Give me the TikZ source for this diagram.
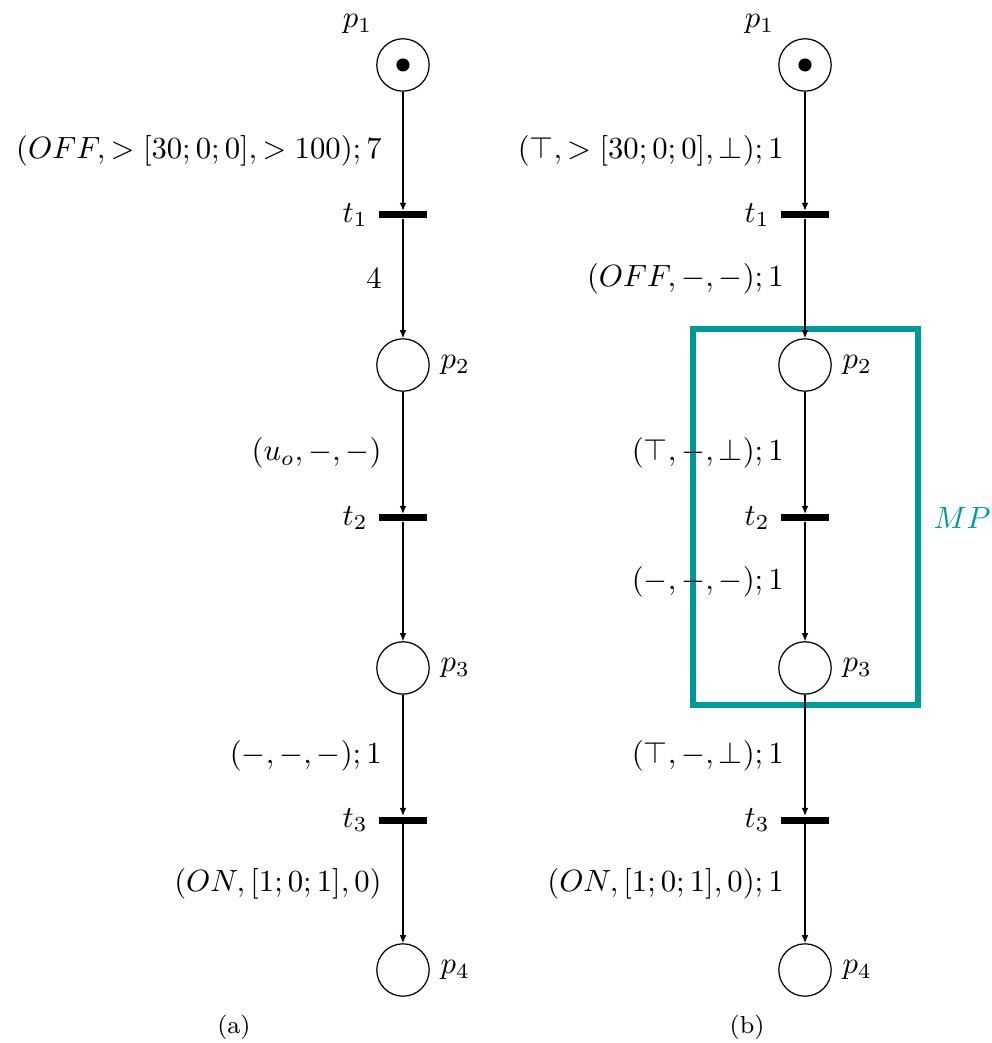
\documentclass[tikz,border=0pt]{standalone}
\usepackage{amsmath,amssymb,amsfonts}
\usepackage{xcolor}
\usepackage{tikz}
\usetikzlibrary{arrows.meta}
\definecolor{mpteal}{RGB}{0,153,153}

\begin{document}
\begin{tikzpicture}[font=\fontsize{10.4}{12.5}\selectfont,
    place/.style={draw, circle, minimum size=6mm, inner sep=0pt},
    trans/.style={fill=black, rectangle, minimum width=5.5mm, minimum height=0.8mm, inner sep=0pt},
    token/.style={fill=black, circle, minimum size=1.5mm, inner sep=0pt},
    flow/.style={-{Latex[length=2.6pt,width=2.2pt]}},
    lab/.style={left=0.12cm}]
  \useasboundingbox (0,0) rectangle (11.363,11.947);

  % (a)
  \node[place] (a1) at (4.616,11.203) {};
  \node[token] (atok) at (a1) {};
  \node (la1) at (4.095,11.672) {$p_1$};
  \node[trans, label=left:$t_1$] (at1) at (4.616,9.485) {};
  \node[place, label=right:$p_2$] (a2) at (4.616,7.766) {};
  \node[trans, label=left:$t_2$] (at2) at (4.616,6.014) {};
  \node[place, label=right:$p_3$] (a3) at (4.616,4.296) {};
  \node[trans, label=left:$t_3$] (at3) at (4.616,2.554) {};
  \node[place, label=right:$p_4$] (a4) at (4.616,0.836) {};
  \draw[flow] (a1) -- node[lab] {$(OFF,>[30;0;0],>100);7$} (at1);
  \draw[flow] (at1) -- node[lab] {$4$} (a2);
  \draw[flow] (a2) -- node[lab] {$(u_o,-,-)$} (at2);
  \draw[flow] (at2) -- (a3);
  \draw[flow] (a3) -- node[lab] {$(-,-,-);1$} (at3);
  \draw[flow] (at3) -- node[lab] {$(ON,[1;0;1],0)$} (a4);
  \node (capa) at (2.680,0.183) {\footnotesize (a)};

  % (b)
  \draw[mpteal, line width=2pt] (7.938,8.179) rectangle (10.515,3.872);
  \node[text=mpteal] (mp) at (11.02,6.014) {$MP$};
  \node[place] (b1) at (9.221,11.203) {};
  \node[token] (btok) at (b1) {};
  \node (lb1) at (8.700,11.672) {$p_1$};
  \node[trans, label=left:$t_1$] (bt1) at (9.221,9.485) {};
  \node[place, label=right:$p_2$] (b2) at (9.221,7.766) {};
  \node[trans, label=left:$t_2$] (bt2) at (9.221,6.014) {};
  \node[place, label=right:$p_3$] (b3) at (9.221,4.296) {};
  \node[trans, label=left:$t_3$] (bt3) at (9.221,2.554) {};
  \node[place, label=right:$p_4$] (b4) at (9.221,0.836) {};
  \draw[flow] (b1) -- node[lab] {$(\top,>[30;0;0],\bot);1$} (bt1);
  \draw[flow] (bt1) -- node[lab] {$(OFF,-,-);1$} (b2);
  \draw[flow] (b2) -- node[lab] {$(\top,-,\bot);1$} (bt2);
  \draw[flow] (bt2) -- node[lab] {$(-,-,-);1$} (b3);
  \draw[flow] (b3) -- node[lab] {$(\top,-,\bot);1$} (bt3);
  \draw[flow] (bt3) -- node[lab] {$(ON,[1;0;1],0);1$} (b4);
  \node (capb) at (8.557,0.183) {\footnotesize (b)};
\end{tikzpicture}
\end{document}
